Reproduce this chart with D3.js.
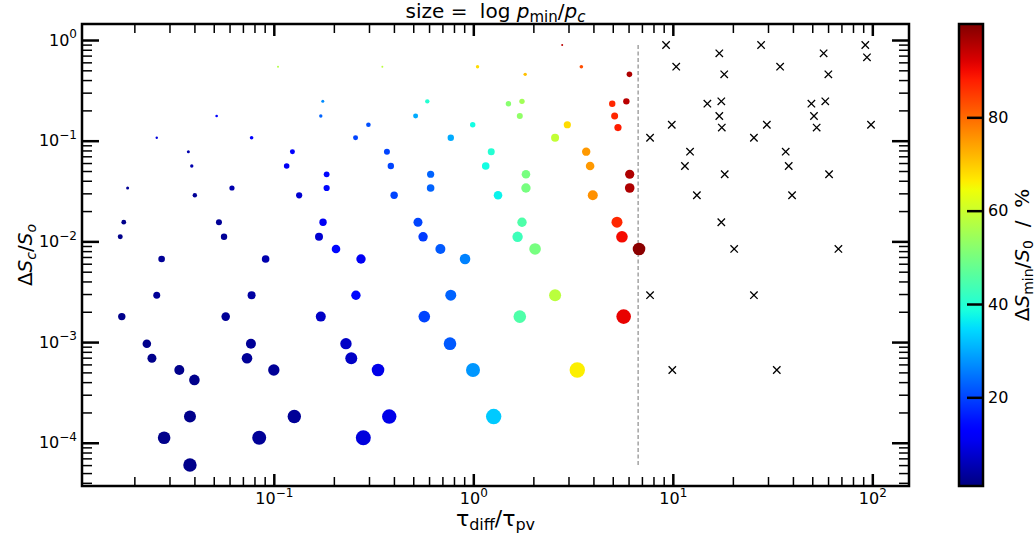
<!DOCTYPE html>
<html>
<head>
<meta charset="utf-8">
<script src="https://cdn.jsdelivr.net/npm/d3@7"></script>
<style>
body { margin: 0; background: #fff; }
svg text { font-family: "DejaVu Sans", sans-serif; fill: #000; }
</style>
</head>
<body>
<div id="chart"></div>
<script>
// circles: tau_diff/tau_pv, dS_c/S_o, dS_min/S_0 (%), log p_min/p_c
const tauRatio = [
  0.105, 0.350, 1.05, 0.176, 0.588, 1.50, 0.0517, 0.172, 0.514, 0.298,
  0.993, 0.0259, 0.0774, 0.257, 0.771, 0.0373, 0.124, 0.369, 1.23, 0.0388,
  0.116, 0.386, 1.154, 0.184, 0.611, 0.0185, 0.0617, 0.184, 0.611, 0.0402,
  0.134, 0.401, 1.33, 0.0177, 0.0531, 0.1765, 0.528, 1.754, 0.0170, 0.0563,
  0.1685, 0.560, 1.667, 0.205, 0.684, 0.0274, 0.0910, 0.2735, 0.909, 2.79,
  1.82, 3.48, 6.06, 1.754, 4.97, 5.85, 1.71, 5.11, 2.96, 5.31,
  2.57, 3.68, 3.85, 1.836, 6.08, 1.836, 6.08, 3.97, 5.25, 5.56,
  2.04, 6.77, 0.0259, 0.0774, 0.258, 0.771, 0.0173, 0.0574, 0.172, 0.568,
  1.71, 0.0231, 0.0768, 0.230, 0.764, 0.0245, 0.0734, 0.2445, 0.0336, 0.100,
  0.333, 0.9965, 0.0400, 0.0380, 0.1267, 0.379, 1.265, 0.0282, 0.0845, 0.281,
  0.0380, 2.57, 5.67, 3.32
];
const deltaS = [
  0.543, 0.543, 0.543, 0.246, 0.246, 0.233, 0.176, 0.176, 0.176, 0.144,
  0.144, 0.107, 0.107, 0.107, 0.107, 0.0778, 0.0778, 0.0778, 0.0778, 0.0561,
  0.0561, 0.0561, 0.0561, 0.0464, 0.0464, 0.0339, 0.0339, 0.0339, 0.0339, 0.0287,
  0.0287, 0.0287, 0.0287, 0.0155, 0.0155, 0.0155, 0.0155, 0.0155, 0.0111, 0.0111,
  0.0111, 0.0111, 0.0111, 0.00841, 0.00841, 0.00668, 0.00668, 0.00668, 0.00668, 0.892,
  0.456, 0.543, 0.456, 0.246, 0.233, 0.246, 0.176, 0.176, 0.144, 0.135,
  0.107, 0.0778, 0.0561, 0.0464, 0.0464, 0.0339, 0.0339, 0.0287, 0.0155, 0.0111,
  0.00841, 0.00841, 0.00292, 0.00292, 0.00292, 0.00292, 0.00179, 0.00179, 0.00179, 0.00179,
  0.00179, 0.000964, 0.000964, 0.000964, 0.000964, 0.00069, 0.00069, 0.00069, 0.000528, 0.000528,
  0.000528, 0.000528, 0.000421, 0.000182, 0.000182, 0.000182, 0.000182, 0.000112, 0.000112, 0.000112,
  0.0000602, 0.00292, 0.00179, 0.000528
];
const deltaSmin = [
  57, 58, 68, 27, 40, 52, 12, 23, 30, 21,
  38, 9, 12, 20, 30, 5, 13, 20, 40, 5,
  11, 20, 38, 14, 23, 3, 5, 14, 23, 3,
  8, 20, 37, 2, 3, 11, 20, 45, 2, 3,
  8, 19, 43, 14, 22, 3, 5, 11, 26, 95,
  71, 83, 96, 55, 87, 95, 53, 87, 68, 88,
  59, 75, 75, 50, 96, 50, 96, 76, 87, 90,
  50, 99, 3, 4, 14, 23, 2, 3, 7, 20,
  45, 2, 3, 7, 22, 2, 3, 7, 2, 3,
  10, 28, 2, 2, 3, 10, 33, 2, 3, 9,
  2, 58, 91, 66
];
const logP = [
  0.11, 0.11, 0.32, 0.25, 0.54, 0.81, 0.19, 0.32, 0.69, 0.59,
  0.81, 0.16, 0.36, 0.69, 1.14, 0.25, 0.69, 1.0, 1.36, 0.32,
  0.87, 1.14, 1.60, 0.93, 1.44, 0.25, 0.75, 1.07, 1.60, 0.54,
  1.07, 1.52, 2.05, 0.64, 1.0, 1.52, 2.25, 2.45, 0.69, 1.14,
  1.78, 2.45, 3.0, 2.05, 2.78, 1.21, 1.60, 2.45, 3.12, 0.11,
  0.32, 0.36, 0.87, 0.81, 1.14, 1.14, 1.0, 1.36, 1.44, 1.44,
  1.78, 1.96, 2.05, 2.05, 2.35, 2.45, 2.56, 2.78, 3.36, 3.74,
  3.74, 4.41, 1.36, 1.78, 2.45, 3.36, 1.52, 2.05, 2.78, 3.74,
  4.41, 2.05, 2.78, 3.61, 4.41, 2.25, 3.12, 4.0, 2.78, 3.61,
  4.41, 5.44, 3.12, 4.0, 4.99, 5.76, 6.59, 4.41, 5.44, 6.25,
  4.99, 4.0, 5.92, 6.59
];

// crosses (no minimum)
const crossTau = [
  9.25, 17.1, 27.7, 57.0, 92.2, 94.0, 10.4, 18.1, 34.5, 60.2,
  14.9, 17.5, 49.5, 58.1, 17.1, 51.0, 9.88, 17.6, 29.6, 52.6,
  98.5, 7.69, 25.5, 12.2, 36.8, 11.5, 38.1, 18.2, 60.7, 13.2,
  39.6, 17.5, 20.3, 67.6, 7.69, 25.5, 9.94, 33.2
];
const crossDeltaS = [
  0.892, 0.738, 0.892, 0.738, 0.892, 0.673, 0.543, 0.456, 0.543, 0.456,
  0.233, 0.246, 0.233, 0.246, 0.176, 0.176, 0.144, 0.135, 0.144, 0.135,
  0.144, 0.107, 0.107, 0.0778, 0.0778, 0.0561, 0.0561, 0.0464, 0.0464, 0.0287,
  0.0287, 0.0155, 0.00841, 0.00841, 0.00292, 0.00292, 0.000528, 0.000528
];

const thresholdTau = 6.7;
const xMajor = [0.1, 1, 10, 100];
const yMajor = [1e-4, 1e-3, 1e-2, 1e-1, 1];
const cbTicks = [20, 40, 60, 80];

const width = 1035, height = 541;
const plot = { left: 82, right: 909, top: 24, bottom: 486 };

const svg = d3.select('#chart').append('svg')
  .attr('width', width)
  .attr('height', height);

const x = d3.scaleLog().domain([0.01093, 152.7]).range([plot.left, plot.right]);
const y = d3.scaleLog().domain([3.72e-5, 1.442]).range([plot.bottom, plot.top]);
const r = d3.scaleSqrt().domain([0, 1]).range([0, 3]);

// jet colormap
const jetR = d3.scaleLinear().domain([0, 0.35, 0.66, 0.89, 1]).range([0, 0, 1, 1, 0.5]).clamp(true);
const jetG = d3.scaleLinear().domain([0, 0.125, 0.375, 0.64, 0.91, 1]).range([0, 0, 1, 1, 0, 0]).clamp(true);
const jetB = d3.scaleLinear().domain([0, 0.11, 0.34, 0.65, 1]).range([0.5, 1, 1, 0, 0]).clamp(true);
const cNorm = d3.scaleLinear().domain([1, 100]).range([0, 1]).clamp(true);
const jet = (v) => {
  const t = cNorm(v);
  return d3.rgb(jetR(t) * 255, jetG(t) * 255, jetB(t) * 255).formatHex();
};

const isMajor = (d) => Math.abs(Math.log10(d) - Math.round(Math.log10(d))) < 1e-9;
const xMinor = x.ticks().filter(d => !isMajor(d));
const yMinor = y.ticks().filter(d => !isMajor(d));

const powLabel = (g) => {
  g.selectAll('.tick text').each(function(d) {
    const e = Math.round(Math.log10(d));
    const t = d3.select(this).text('');
    t.append('tspan').text('10');
    t.append('tspan').attr('dy', '-0.6em').attr('font-size', '12px')
      .text(e < 0 ? '\u2212' + (-e) : String(e));
  });
};

const styleAxis = (g, w) => {
  g.select('.domain').remove();
  g.selectAll('line').attr('stroke-width', w);
  g.attr('font-family', null).attr('font-size', 16);
};

// axes: major + minor, ticks pointing in
svg.append('g').attr('transform', 'translate(0,' + plot.bottom + ')')
  .call(d3.axisBottom(x).tickValues(xMinor).tickSize(-9).tickFormat(''))
  .call(g => styleAxis(g, 1.5));
svg.append('g').attr('transform', 'translate(0,' + plot.bottom + ')')
  .call(d3.axisBottom(x).tickValues(xMajor).tickSize(-12).tickPadding(7))
  .call(g => styleAxis(g, 2.5))
  .call(powLabel);
svg.append('g').attr('transform', 'translate(0,' + plot.top + ')')
  .call(d3.axisTop(x).tickValues(xMinor).tickSize(-9).tickFormat(''))
  .call(g => styleAxis(g, 1.5));
svg.append('g').attr('transform', 'translate(0,' + plot.top + ')')
  .call(d3.axisTop(x).tickValues(xMajor).tickSize(-12).tickFormat(''))
  .call(g => styleAxis(g, 2.5));

svg.append('g').attr('transform', 'translate(' + plot.left + ',0)')
  .call(d3.axisLeft(y).tickValues(yMinor).tickSize(-10).tickFormat(''))
  .call(g => styleAxis(g, 1.5));
svg.append('g').attr('transform', 'translate(' + plot.left + ',0)')
  .call(d3.axisLeft(y).tickValues(yMajor).tickSize(-17).tickPadding(5))
  .call(g => styleAxis(g, 2.5))
  .call(powLabel);
svg.append('g').attr('transform', 'translate(' + plot.right + ',0)')
  .call(d3.axisRight(y).tickValues(yMinor).tickSize(-10).tickFormat(''))
  .call(g => styleAxis(g, 1.5));
svg.append('g').attr('transform', 'translate(' + plot.right + ',0)')
  .call(d3.axisRight(y).tickValues(yMajor).tickSize(-17).tickFormat(''))
  .call(g => styleAxis(g, 2.5));

// dashed threshold line
const yExtent = d3.extent(deltaS.concat(crossDeltaS));
svg.append('line')
  .attr('x1', x(thresholdTau)).attr('x2', x(thresholdTau))
  .attr('y1', y(yExtent[0])).attr('y2', y(yExtent[1]))
  .attr('stroke', '#8c8c8c')
  .attr('stroke-width', 1.2)
  .attr('stroke-dasharray', '4,2.5');

// circles
const pts = tauRatio.map((t, i) => ({ t: t, s: deltaS[i], c: deltaSmin[i], p: logP[i] }));
svg.append('g').selectAll('circle')
  .data(pts)
  .enter()
  .append('circle')
  .attr('cx', d => x(d.t))
  .attr('cy', d => y(d.s))
  .attr('r', d => r(d.p))
  .attr('fill', d => jet(d.c));

// crosses
const crosses = crossTau.map((t, i) => ({ t: t, s: crossDeltaS[i] }));
svg.append('g').selectAll('path')
  .data(crosses)
  .enter()
  .append('path')
  .attr('transform', d => 'translate(' + x(d.t) + ',' + y(d.s) + ')')
  .attr('d', 'M-3.7,-3.7L3.7,3.7M-3.7,3.7L3.7,-3.7')
  .attr('stroke', '#000')
  .attr('stroke-width', 1.3)
  .attr('fill', 'none');

// frame
svg.append('rect')
  .attr('x', plot.left).attr('y', plot.top)
  .attr('width', plot.right - plot.left).attr('height', plot.bottom - plot.top)
  .attr('fill', 'none').attr('stroke', '#000').attr('stroke-width', 2.5);

// title
const title = svg.append('text')
  .attr('x', (plot.left + plot.right) / 2).attr('y', 18)
  .attr('text-anchor', 'middle').attr('font-size', 20);
title.append('tspan').text('size = ');
title.append('tspan').attr('dx', 6).text('log ');
title.append('tspan').attr('font-style', 'italic').text('p');
title.append('tspan').attr('dy', 4).attr('font-size', 15).text('min');
title.append('tspan').attr('dy', -4).text('/');
title.append('tspan').attr('font-style', 'italic').text('p');
title.append('tspan').attr('dy', 4).attr('font-size', 15).attr('font-style', 'italic').text('c');

// x label
const xl = svg.append('text')
  .attr('x', (plot.left + plot.right) / 2).attr('y', 526)
  .attr('text-anchor', 'middle').attr('font-size', 22);
xl.append('tspan').text('\u03c4');
xl.append('tspan').attr('dy', 4).attr('font-size', 16).text('diff');
xl.append('tspan').attr('dy', -4).text('/\u03c4');
xl.append('tspan').attr('dy', 4).attr('font-size', 16).text('pv');

// y label
const yl = svg.append('text')
  .attr('transform', 'translate(32,' + ((plot.top + plot.bottom) / 2) + ') rotate(-90)')
  .attr('text-anchor', 'middle').attr('font-size', 20);
yl.append('tspan').text('\u0394');
yl.append('tspan').attr('font-style', 'italic').text('S');
yl.append('tspan').attr('dy', 4).attr('font-size', 14).attr('font-style', 'italic').text('c');
yl.append('tspan').attr('dy', -4).text('/');
yl.append('tspan').attr('font-style', 'italic').text('S');
yl.append('tspan').attr('dy', 4).attr('font-size', 14).attr('font-style', 'italic').text('o');

// colorbar
const cb = { left: 959, right: 983 };
const cScale = d3.scaleLinear().domain([1, 100]).range([plot.bottom, plot.top]);
const grad = svg.append('defs').append('linearGradient')
  .attr('id', 'jetGrad')
  .attr('x1', 0).attr('y1', 1).attr('x2', 0).attr('y2', 0);
grad.selectAll('stop')
  .data(d3.range(0, 1.0001, 0.02))
  .enter()
  .append('stop')
  .attr('offset', d => d)
  .attr('stop-color', d => jet(1 + 99 * d));
svg.append('rect')
  .attr('x', cb.left).attr('y', plot.top)
  .attr('width', cb.right - cb.left).attr('height', plot.bottom - plot.top)
  .attr('fill', 'url(#jetGrad)');
svg.append('g').attr('transform', 'translate(' + cb.right + ',0)')
  .call(d3.axisRight(cScale).tickValues(cbTicks).tickSize(-16).tickPadding(5))
  .call(g => styleAxis(g, 2.5));
svg.append('rect')
  .attr('x', cb.left).attr('y', plot.top)
  .attr('width', cb.right - cb.left).attr('height', plot.bottom - plot.top)
  .attr('fill', 'none').attr('stroke', '#000').attr('stroke-width', 2.5);

const cl = svg.append('text')
  .attr('transform', 'translate(1029,' + ((plot.top + plot.bottom) / 2) + ') rotate(-90)')
  .attr('text-anchor', 'middle').attr('font-size', 20);
cl.append('tspan').text('\u0394');
cl.append('tspan').attr('font-style', 'italic').text('S');
cl.append('tspan').attr('dy', 4).attr('font-size', 14).text('min');
cl.append('tspan').attr('dy', -4).text('/');
cl.append('tspan').attr('font-style', 'italic').text('S');
cl.append('tspan').attr('dy', 4).attr('font-size', 14).text('0');
cl.append('tspan').attr('dy', -4).attr('xml:space', 'preserve').text('  /  %');
</script>
</body>
</html>
